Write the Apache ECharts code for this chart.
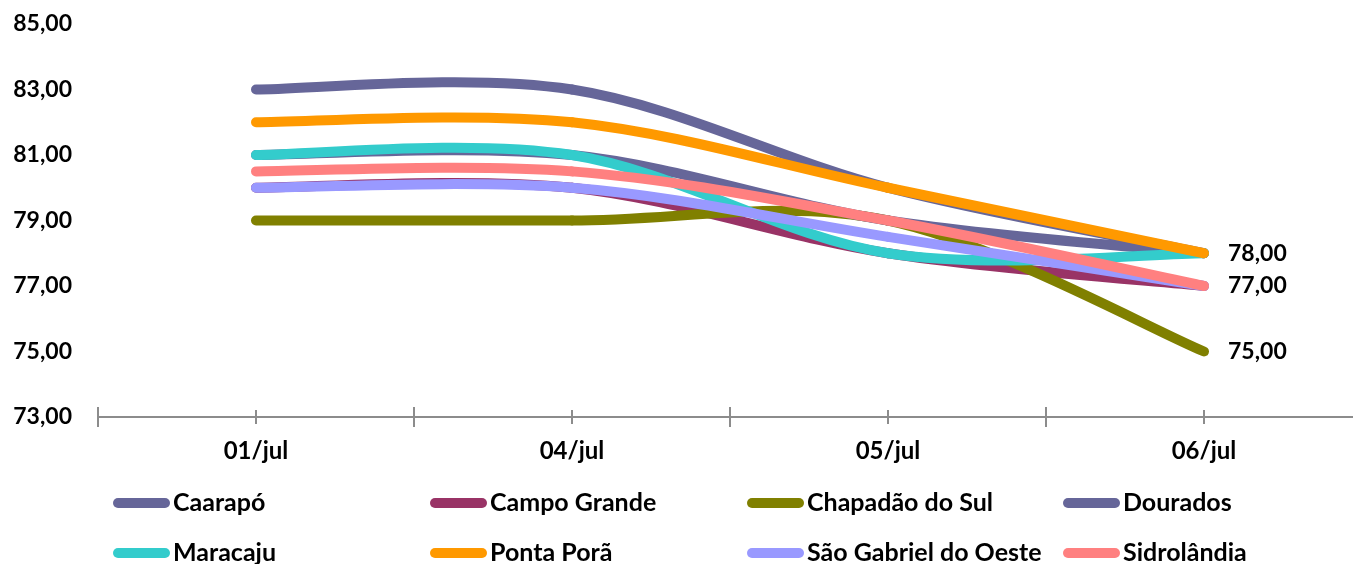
<!DOCTYPE html>
<html>
<head>
<meta charset="utf-8">
<script src="https://cdn.jsdelivr.net/npm/echarts@6/dist/echarts.min.js"></script>
<style>
  html, body { margin: 0; padding: 0; background: #ffffff; overflow: hidden; }
  /* the plot area runs a few pixels past the right edge of the window */
  #chart { width: 1362px; height: 564px; }
</style>
</head>
<body>
<div id="chart"></div>
<script>
// Dates on the category axis
const categories = ['01/jul', '04/jul', '05/jul', '06/jul'];

// Values per city
const caarapo     = [83, 83, 80, 78];
const campoGrande = [80, 80, 78, 77];
const chapadao    = [79, 79, 79, 75];
const dourados    = [81, 81, 79, 78];
const maracaju    = [81, 81, 78, 78];
const pontaPora   = [82, 82, 80, 78];
const saoGabriel  = [80, 80, 78.5, 77];
const sidrolandia = [80.5, 80.5, 79, 77];

// Y axis range
const yMin = 73, yMax = 85, yStep = 2;

const FONT = 'Lato';
const fmt = v => v.toFixed(2).replace('.', ',');

const seriesDefs = [
  { name: 'Caarapó', data: caarapo, color: '#666699' },
  { name: 'Campo Grande', data: campoGrande, color: '#993366' },
  { name: 'Chapadão do Sul', data: chapadao, color: '#808000', endLabel: true },
  { name: 'Dourados', data: dourados, color: '#666699' },
  { name: 'Maracaju', data: maracaju, color: '#33CCCC' },
  { name: 'Ponta Porã', data: pontaPora, color: '#FF9900', endLabel: true },
  { name: 'São Gabriel do Oeste', data: saoGabriel, color: '#9999FF' },
  { name: 'Sidrolândia', data: sidrolandia, color: '#FF8080', endLabel: true }
];

// Legend: 4 columns x 2 rows, one legend block per entry
const capsule = 'path://M5,0 L52,0 A5,5 0 0 1 52,10 L5,10 A5,5 0 0 1 5,0 Z';
const legendCols = [113, 430, 747, 1063];
const legendRows = [490, 540];
const legends = seriesDefs.map((s, i) => ({
  orient: 'horizontal',
  left: legendCols[i % 4],
  top: legendRows[Math.floor(i / 4)],
  icon: capsule,
  itemWidth: 57,
  itemHeight: 11,
  padding: 0,
  selectedMode: false,
  data: [s.name],
  textStyle: { fontFamily: FONT, fontWeight: 'bold', fontSize: 25, color: '#000', lineHeight: 26, padding: [0, 0, 0, -2] }
}));

const axisBase = {
  type: 'category',
  data: categories,
  boundaryGap: true,
  position: 'bottom',
  gridIndex: 0
};
const tickColor = '#8c8c8c';

// Smooth curve through the points: cubic Bezier segments with
// Catmull-Rom style control points (tangent = (next - prev) / 6).
function segmentShape(pts, i) {
  const p0 = pts[Math.max(i - 1, 0)];
  const p1 = pts[i];
  const p2 = pts[i + 1];
  const p3 = pts[Math.min(i + 2, pts.length - 1)];
  return {
    x1: p1[0], y1: p1[1],
    cpx1: p1[0] + (p2[0] - p0[0]) / 6, cpy1: p1[1] + (p2[1] - p0[1]) / 6,
    cpx2: p2[0] - (p3[0] - p1[0]) / 6, cpy2: p2[1] - (p3[1] - p1[1]) / 6,
    x2: p2[0], y2: p2[1]
  };
}

function makeSeries(s) {
  return {
    name: s.name,
    type: 'custom',
    coordinateSystem: 'cartesian2d',
    xAxisIndex: 0,
    yAxisIndex: 0,
    itemStyle: { color: s.color },
    data: s.data.map((v, i) => [i, v]),
    encode: { x: 0, y: 1 },
    clip: false,
    silent: true,
    renderItem: (params, api) => {
      const pts = s.data.map((v, i) => api.coord([i, v]));
      const i = params.dataIndex;
      if (i < pts.length - 1) {
        return {
          type: 'bezierCurve',
          shape: segmentShape(pts, i),
          style: { stroke: s.color, fill: null, lineWidth: 10, lineCap: 'round', lineJoin: 'round' }
        };
      }
      if (!s.endLabel) return null;
      const last = pts[i];
      return {
        type: 'text',
        x: last[0] + 24,
        y: last[1],
        style: {
          text: fmt(s.data[i]),
          fontFamily: FONT, fontWeight: 'bold', fontSize: 23, fill: '#000',
          align: 'left', verticalAlign: 'middle'
        }
      };
    }
  };
}

const option = {
  animation: false,
  backgroundColor: '#ffffff',
  grid: { left: 98, top: 24, right: 0, bottom: 147, containLabel: false },
  legend: legends,
  xAxis: [
    Object.assign({}, axisBase, {
      axisLine: { show: true, lineStyle: { color: tickColor, width: 2 } },
      axisTick: { show: true, length: 10, inside: false, lineStyle: { color: tickColor, width: 2 } },
      axisLabel: { show: true, margin: 22, fontFamily: FONT, fontWeight: 'bold', fontSize: 24, color: '#000' }
    }),
    Object.assign({}, axisBase, {
      axisLine: { show: false },
      axisTick: { show: true, length: 10, inside: true, lineStyle: { color: tickColor, width: 2 } },
      axisLabel: { show: false }
    }),
    Object.assign({}, axisBase, {
      axisLine: { show: false },
      axisTick: { show: true, alignWithLabel: true, length: 7, inside: false, lineStyle: { color: tickColor, width: 2 } },
      axisLabel: { show: false }
    }),
    Object.assign({}, axisBase, {
      axisLine: { show: false },
      axisTick: { show: true, alignWithLabel: true, length: 7, inside: true, lineStyle: { color: tickColor, width: 2 } },
      axisLabel: { show: false }
    })
  ],
  yAxis: {
    type: 'value',
    min: yMin,
    max: yMax,
    interval: yStep,
    axisLine: { show: false },
    axisTick: { show: false },
    splitLine: { show: false },
    axisLabel: { margin: 26, fontFamily: FONT, fontWeight: 'bold', fontSize: 23, color: '#000', formatter: v => fmt(v) }
  },
  series: seriesDefs.map(makeSeries)
};

const chart = echarts.init(document.getElementById('chart'), null, { renderer: 'canvas' });
chart.setOption(option);
</script>
</body>
</html>
